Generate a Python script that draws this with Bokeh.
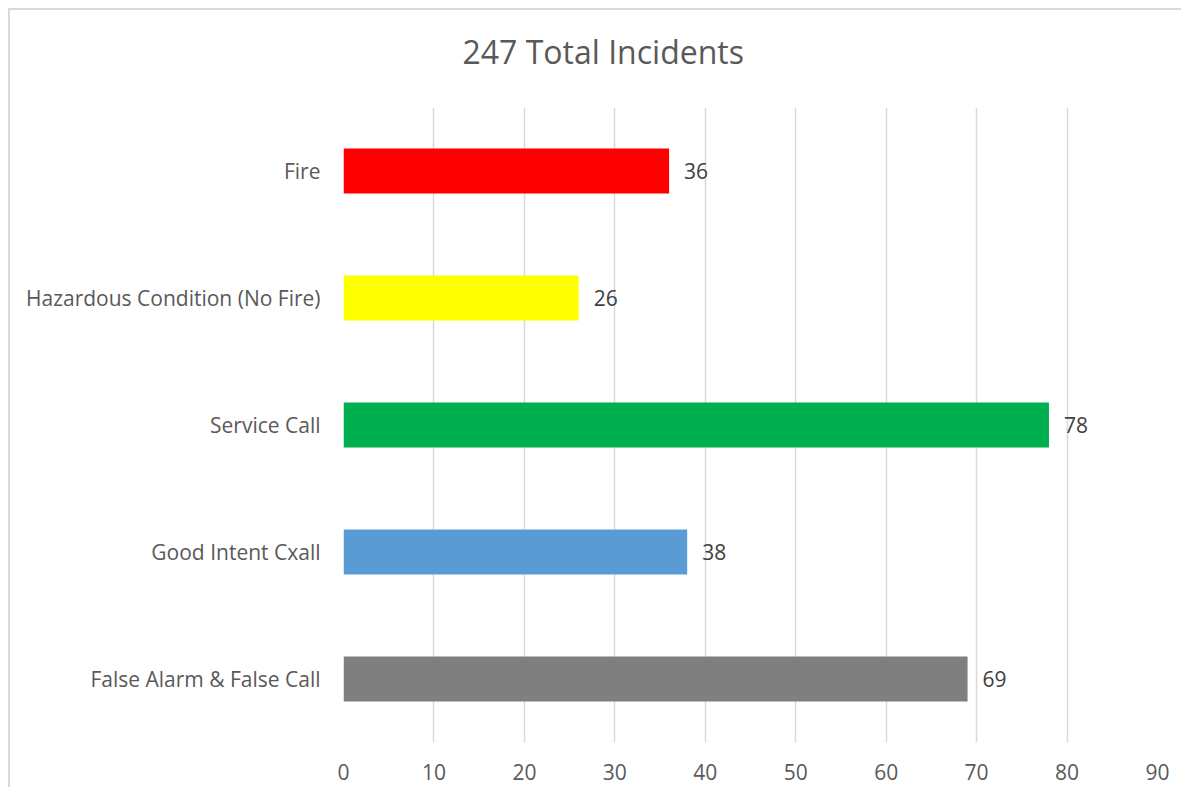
from bokeh.plotting import figure
from bokeh.models import ColumnDataSource, FactorRange, Range1d, FixedTicker, Title
from bokeh.core.properties import value
from bokeh.embed import file_html
from bokeh.resources import INLINE

categories = ["Fire", "Hazardous Condition (No Fire)", "Service Call", "Good Intent Cxall", "False Alarm & False Call"]
counts = [36, 26, 78, 38, 69]
colors = ["#FF0000", "#FFFF00", "#00B050", "#5B9BD5", "#7F7F7F"]
x_ticks = [0, 10, 20, 30, 40, 50, 60, 70, 80, 90]
title_text = "247 Total Incidents"

FONT = "Open Sans"

src = ColumnDataSource(dict(cat=categories, val=counts, color=colors,
                            lbl=[str(v) for v in counts]))

p = figure(width=1173, height=779, output_backend="svg", toolbar_location=None,
           y_range=FactorRange(factors=list(reversed(categories))),
           x_range=Range1d(0, 90),
           min_border_left=333, min_border_right=26, min_border_top=97, min_border_bottom=47,
           title=title_text)

p.styles = {"border-left": "2px solid #d9d9d9", "border-top": "2px solid #d9d9d9",
            "margin-left": "8px", "margin-top": "8px"}

# spacer between the title and the plot frame
spacer = Title(text=" ", text_font_size="20px", standoff=11, text_color="white")
p.add_layout(spacer, "above")

p.title.text_font = FONT
p.title.text_font_size = "32px"
p.title.text_font_style = "normal"
p.title.text_color = "#595959"
p.title.align = "left"
p.title.offset = 119
p.title.standoff = 0

p.hbar(y="cat", right="val", left=0, height=0.355, fill_color="color", line_color=None, source=src)
p.text(x="val", y="cat", text="lbl", source=src, x_offset=15,
       text_align="left", text_baseline="middle", text_font=value(FONT),
       text_font_size="21px", text_color="#404040")

p.outline_line_color = None
p.background_fill_color = "white"
p.border_fill_color = "white"

p.xgrid.grid_line_color = "#d9d9d9"
p.xgrid.grid_line_width = 1.5
p.ygrid.grid_line_color = None
p.xaxis.ticker = FixedTicker(ticks=x_ticks)

for ax in (p.xaxis[0], p.yaxis[0]):
    ax.axis_line_color = None
    ax.major_tick_line_color = None
    ax.minor_tick_line_color = None
    ax.major_label_text_font = FONT
    ax.major_label_text_font_size = "21px"
    ax.major_label_text_color = "#595959"

p.xaxis.major_label_standoff = 15
p.yaxis.major_label_standoff = 17

open("out.html", "w").write(file_html(p, INLINE))
